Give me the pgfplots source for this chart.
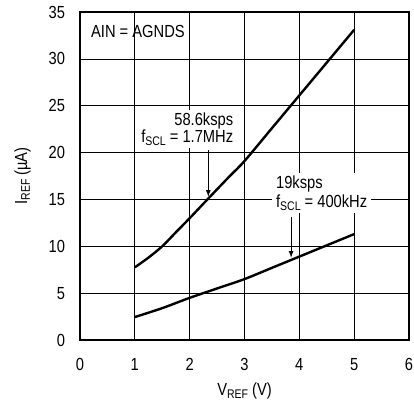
\documentclass[border=0pt]{standalone}
\usepackage{pgfplots}
\pgfplotsset{compat=1.18}
\usepackage{fontspec}
\setmainfont{Liberation Sans}[FakeStretch=0.84]
\newcommand\sub[1]{\raisebox{-0.3ex}{\fontsize{12.5}{12.5}\selectfont #1}}
\begin{document}
\fontsize{17.5}{19}\selectfont
\begin{tikzpicture}
\begin{axis}[
  scale only axis, width=329pt, height=328pt,
  at={(0,0)}, anchor=south west,
  xmin=0, xmax=6, ymin=0, ymax=35,
  xtick={0,...,6}, ytick={0,5,...,35},
  grid=major, grid style={black, line width=0.7pt},
  major tick length=0pt,
  axis line style={line width=2.6pt},
  /pgf/number format/assume math mode=true,
  tick label style={font=\fontsize{17.5}{19}\selectfont},
  xticklabel style={yshift=-12pt},
  yticklabel style={xshift=-9pt},
  xlabel={V\sub{REF} (V)},
  ylabel={I\sub{REF} (µA)},
  xlabel style={yshift=-1pt},
  ylabel style={yshift=6pt},
  clip=false,
]
\addplot[black, line width=2.4pt, smooth, tension=0.5] coordinates {
(1,7.75) (1.25,8.8) (1.5,10.0) (1.75,11.5) (2,13.0) (2.34,15.1) (2.7,17.3)
(3,19.1) (3.5,22.6) (4,26.1) (4.5,29.6) (5,33.1)};
\addplot[black, line width=2.4pt, smooth, tension=0.5] coordinates {
(1,2.45) (1.5,3.4) (2,4.5) (2.5,5.5) (3,6.5) (3.5,7.7) (4,8.9) (4.5,10.1) (5,11.3)};
\node[anchor=west, inner sep=0pt] at (axis cs:0.2,32.9) {AIN = AGNDS};
\node[fill=white, align=right, inner xsep=4pt, inner ysep=3pt, anchor=east, font=\fontsize{17.5}{17}\selectfont] at (axis cs:2.87,22.5) {58.6ksps\\f\sub{SCL} = 1.7MHz};
\node[fill=white, align=left, inner xsep=4pt, inner ysep=3pt, anchor=west, font=\fontsize{17.5}{19}\selectfont] at (axis cs:3.5,15.7) {19ksps\\f\sub{SCL} = 400kHz};
\draw[-latex, line width=1.2pt] (axis cs:2.34,20.3) -- (axis cs:2.34,15.3);
\draw[-latex, line width=1.2pt] (axis cs:3.85,13.1) -- (axis cs:3.85,8.8);
\end{axis}
\pgfresetboundingbox
\path (-80pt,-62pt) rectangle (334pt,340pt);
\end{tikzpicture}
\end{document}
